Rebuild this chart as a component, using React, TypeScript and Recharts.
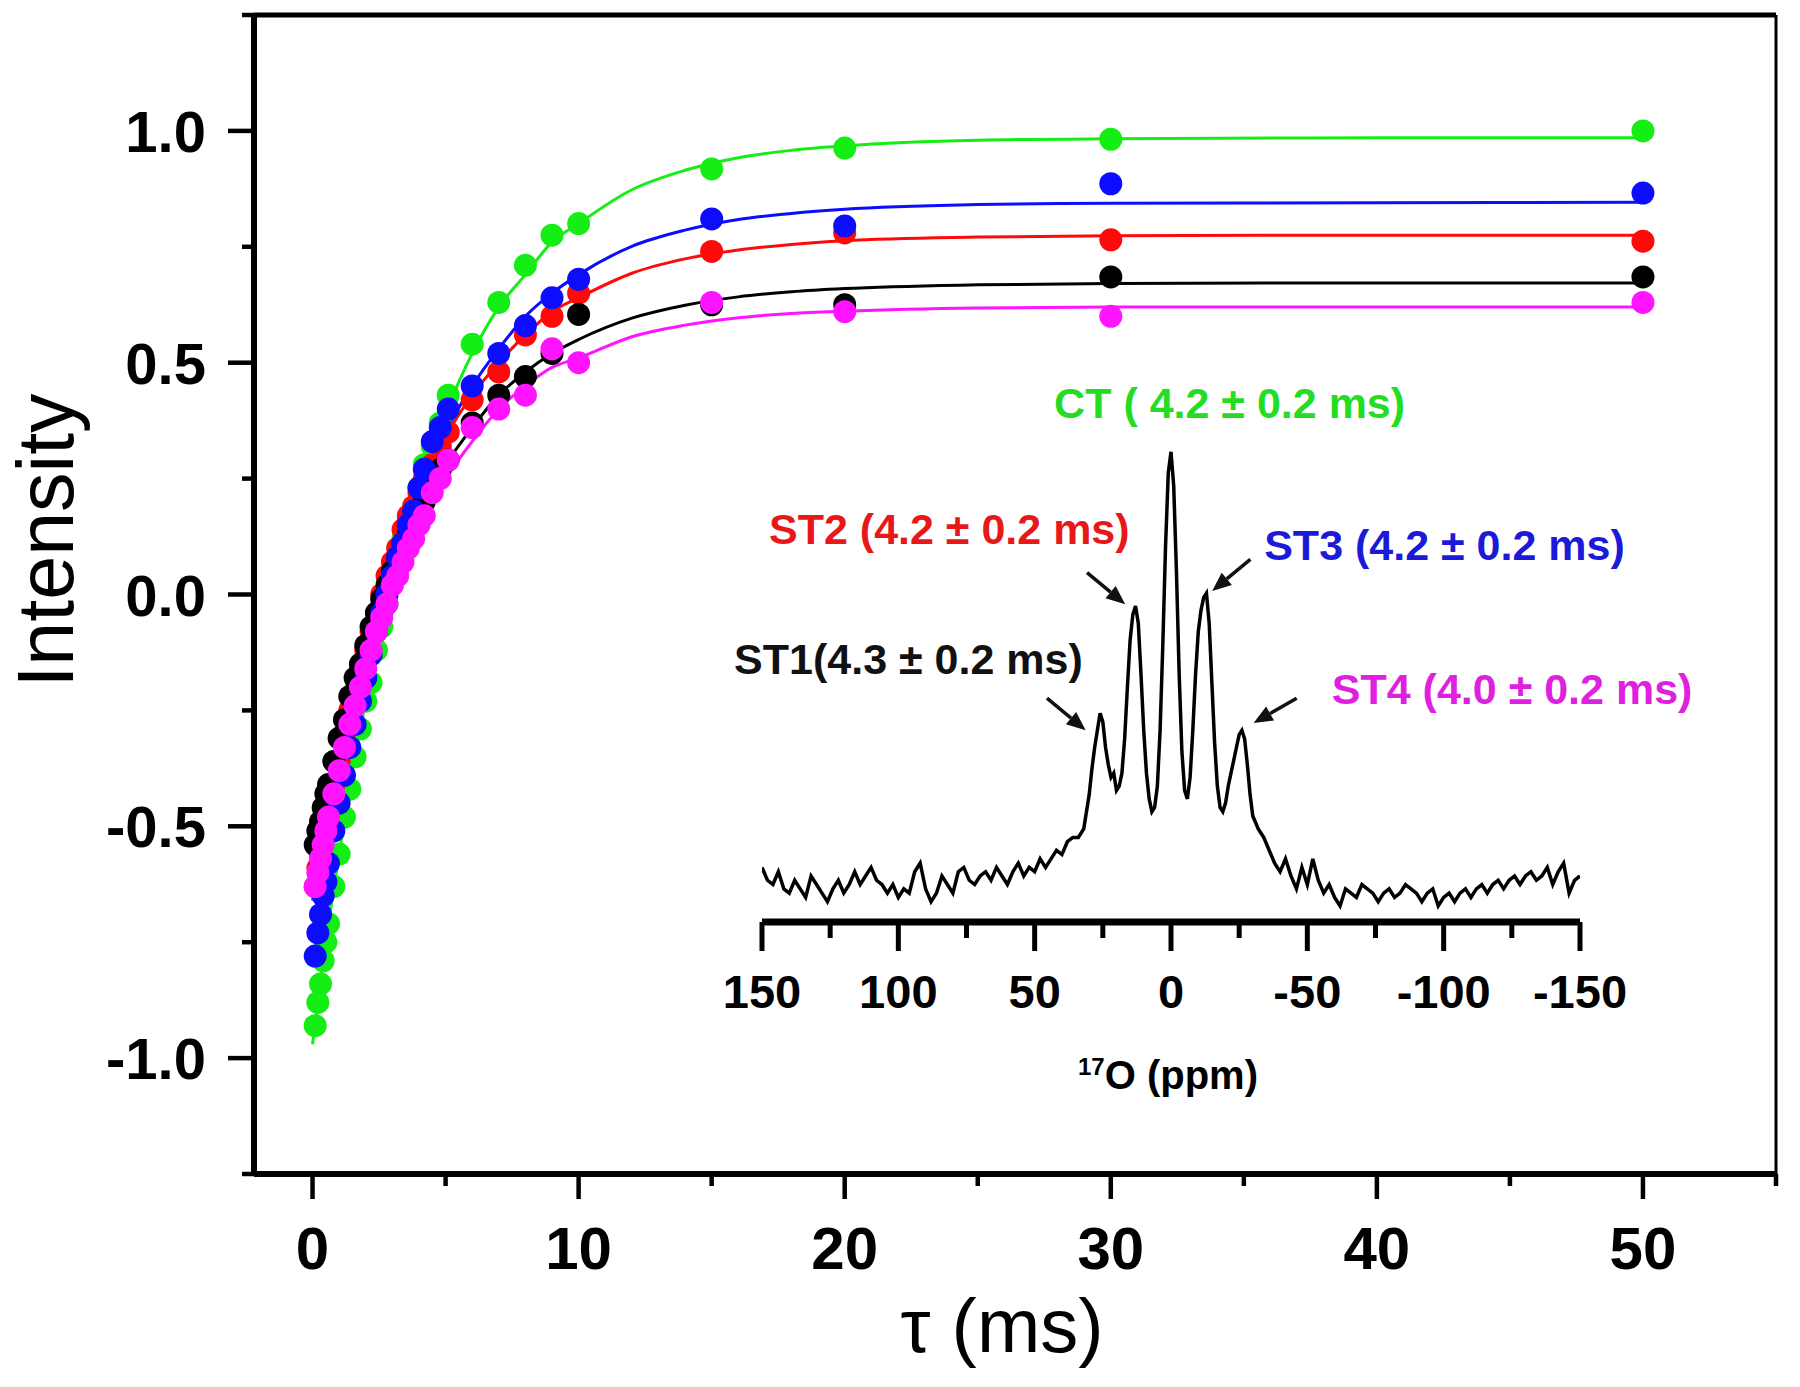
import React from 'react';
import {
  ComposedChart,
  LineChart,
  Line,
  Scatter,
  XAxis,
  YAxis,
  ReferenceLine,
  ReferenceDot,
} from 'recharts';

// ---------- main plot: recovery delay (ms) ----------
const TAU = [
  0.1, 0.2, 0.3, 0.4, 0.5, 0.6,
  0.8, 1.0, 1.2, 1.4, 1.6, 1.8, 2.0, 2.2, 2.4, 2.6, 2.8, 3.0, 3.2, 3.4, 3.6, 3.8, 4.0, 4.2, 4.5, 4.8, 5.1,
  6, 7, 8, 9, 10, 15, 20, 30, 50,
];

const CT_VALUES = [
  -0.93, -0.88, -0.84, -0.79, -0.75, -0.71,
  -0.63, -0.56, -0.48, -0.42, -0.35, -0.29, -0.23, -0.19, -0.12, -0.07, -0.02, 0.03, 0.07, 0.12, 0.16, 0.19, 0.23, 0.28, 0.32, 0.37, 0.43,
  0.54, 0.63, 0.71, 0.775, 0.8, 0.918, 0.963, 0.982, 1.0,
];
const ST2_VALUES = [
  -0.63, -0.59, -0.56, -0.53, -0.5, -0.47,
  -0.41, -0.36, -0.3, -0.25, -0.21, -0.16, -0.12, -0.08, -0.04, 0.0, 0.04, 0.07, 0.1, 0.14, 0.17, 0.19, 0.22, 0.25, 0.28, 0.32, 0.35,
  0.42, 0.48, 0.56, 0.6, 0.65, 0.74, 0.78, 0.765, 0.762,
];
const ST1_VALUES = [
  -0.54, -0.51, -0.49, -0.46, -0.43, -0.41,
  -0.36, -0.31, -0.27, -0.22, -0.18, -0.15, -0.11, -0.07, -0.04, -0.01, 0.02, 0.05, 0.08, 0.11, 0.13, 0.16, 0.18, 0.2, 0.24, 0.27, 0.29,
  0.37, 0.43, 0.47, 0.52, 0.604, 0.625, 0.625, 0.685, 0.685,
];
const ST3_VALUES = [
  -0.78, -0.73, -0.69, -0.65, -0.62, -0.58,
  -0.51, -0.45, -0.39, -0.33, -0.28, -0.23, -0.18, -0.13, -0.08, -0.04, 0.0, 0.04, 0.08, 0.11, 0.15, 0.18, 0.23, 0.27, 0.33, 0.36, 0.4,
  0.45, 0.52, 0.58, 0.64, 0.68, 0.81, 0.795, 0.886, 0.866,
];
const ST4_VALUES = [
  -0.63, -0.6, -0.57, -0.54, -0.51, -0.48,
  -0.43, -0.38, -0.33, -0.28, -0.24, -0.2, -0.16, -0.12, -0.08, -0.05, -0.02, 0.02, 0.04, 0.07, 0.1, 0.12, 0.15, 0.17, 0.22, 0.25, 0.29,
  0.36, 0.4, 0.43, 0.53, 0.5, 0.63, 0.61, 0.6, 0.63,
];

// fitted recovery curves
const FIT_TAU = [0, 0.5, 1, 1.5, 2, 3, 4, 5, 6, 7, 8, 9, 10, 12, 14, 16, 18, 20, 25, 30, 40, 50];
const CT_FIT = [-0.97, -0.75, -0.56, -0.38, -0.23, 0.03, 0.23, 0.39, 0.52, 0.62, 0.69, 0.76, 0.8, 0.873, 0.915, 0.942, 0.958, 0.968, 0.98, 0.983, 0.985, 0.985];
const ST2_FIT = [-0.66, -0.5, -0.36, -0.23, -0.12, 0.07, 0.22, 0.34, 0.43, 0.5, 0.56, 0.61, 0.64, 0.693, 0.724, 0.743, 0.755, 0.763, 0.771, 0.774, 0.775, 0.775];
const ST1_FIT = [-0.57, -0.43, -0.31, -0.2, -0.11, 0.05, 0.18, 0.28, 0.36, 0.43, 0.48, 0.52, 0.55, 0.596, 0.624, 0.642, 0.653, 0.66, 0.668, 0.671, 0.672, 0.672];
const ST3_FIT = [-0.8, -0.62, -0.45, -0.31, -0.18, 0.04, 0.21, 0.35, 0.45, 0.53, 0.6, 0.65, 0.69, 0.751, 0.786, 0.809, 0.822, 0.831, 0.841, 0.844, 0.845, 0.846];
const ST4_FIT = [-0.66, -0.51, -0.38, -0.26, -0.16, 0.02, 0.15, 0.25, 0.33, 0.4, 0.45, 0.49, 0.51, 0.556, 0.581, 0.597, 0.606, 0.611, 0.618, 0.62, 0.62, 0.62];

const X_TICKS = [0, 5, 10, 15, 20, 25, 30, 35, 40, 45, 50, 55];
const Y_TICKS = [-1.25, -1, -0.75, -0.5, -0.25, 0, 0.25, 0.5, 0.75, 1, 1.25];

// ---------- inset: 17O spectrum ----------
const SPEC_PPM = [
  150, 148, 146, 144, 142, 140, 138, 136, 134, 132,
  130, 128, 126, 124, 122, 120, 118, 116, 114, 112,
  110, 108, 106, 104, 102, 100, 98, 96, 94, 92,
  90, 88, 86, 84, 82, 80, 78, 76, 74, 72,
  70, 68, 66, 64, 62, 60, 58, 56, 54, 52,
  50, 48, 46, 44, 42, 40, 38, 36, 34, 32,
  30, 29, 28, 27, 26, 25, 24, 23, 22, 21,
  20, 19, 18, 17, 16, 15, 14, 13, 12, 11,
  10, 9, 8, 7, 6, 5, 4, 3, 2, 1,
  0, -1, -2, -3, -4, -5, -6, -7, -8, -9,
  -10, -11, -12, -13, -14, -15, -16, -17, -18, -19,
  -20, -21, -22, -23, -24, -25, -26, -27, -28, -29,
  -30, -32, -34, -36, -38, -40, -42, -44, -46, -48,
  -50, -52, -54, -56, -58, -60, -62, -64, -66, -68,
  -70, -72, -74, -76, -78, -80, -82, -84, -86, -88,
  -90, -92, -94, -96, -98, -100, -102, -104, -106, -108,
  -110, -112, -114, -116, -118, -120, -122, -124, -126, -128,
  -130, -132, -134, -136, -138, -140, -142, -144, -146, -148,
  -150,
];
const SPEC_INT = [
  3, 0, -1, 2, -2, -3, 0, -2, -4, 1,
  -1, -3, -5, -2, 0, -3, -1, 2, -1, 1,
  3, 0, -1, -3, -1, -4, -2, -3, 2, 4,
  -2, -5, -3, 1, -1, -3, 2, 3, 0, -1,
  1, 2, 0, 3, 1, -1, 2, 4, 1, 3,
  2, 5, 3, 5, 7, 6, 9, 10, 10, 12,
  20, 26, 31, 35, 39, 37, 31, 27, 24, 25,
  21, 22, 25, 33, 45, 56, 62, 64, 60, 48,
  35, 25, 19, 16, 17, 22, 35, 55, 78, 95,
  100, 92, 72, 48, 30, 21, 19, 24, 35, 48,
  58, 63, 66, 67, 60, 46, 32, 22, 17, 16,
  18, 22, 25, 28, 31, 34, 35, 33, 27, 20,
  15, 12, 10, 7, 4, 2, 5, 1, -2, 3,
  -1, 5, 0, -3, -1, -4, -6, -2, -3, -4,
  -1, -2, -3, -5, -3, -2, -4, -3, -1, -2,
  -3, -5, -3, -2, -6, -4, -3, -5, -3, -2,
  -4, -2, -1, -3, -1, 0, -2, 0, 1, -1,
  1, 2, 0, 1, 3, -1, 2, 4, -3, 0,
  1,
];
const PPM_TICKS = [150, 125, 100, 75, 50, 25, 0, -25, -50, -75, -100, -125, -150];

// annotation texts (positions in ppm / spectrum-intensity units)
const ANNOTATIONS = [
  { text: 'CT ( 4.2 \u00b1 0.2 ms)', color: '#22dd22', x: -21.5, y: 111.4 },
  { text: 'ST2 (4.2 \u00b1 0.2 ms)', color: '#e81818', x: 81.3, y: 82.1 },
  { text: 'ST3 (4.2 \u00b1 0.2 ms)', color: '#1a1ad8', x: -100.3, y: 78.2 },
  { text: 'ST1(4.3 \u00b1 0.2 ms)', color: '#111111', x: 96.3, y: 51.8 },
  { text: 'ST4 (4.0 \u00b1 0.2 ms)', color: '#e020e0', x: -125.1, y: 44.8 },
];
const ARROWS = [
  { fx: 45.5, fy: 42.5, tx: 31.3, ty: 35.0 },
  { fx: 30.8, fy: 71.8, tx: 16.8, ty: 64.4 },
  { fx: -29.1, fy: 74.9, tx: -15.1, ty: 67.5 },
  { fx: -46.1, fy: 42.5, tx: -30.3, ty: 36.7 },
];

const SERIES = [
  { name: 'CT', color: '#14ee14', values: CT_VALUES, fit: CT_FIT },
  { name: 'ST2', color: '#ff0a0a', values: ST2_VALUES, fit: ST2_FIT },
  { name: 'ST1', color: '#000000', values: ST1_VALUES, fit: ST1_FIT },
  { name: 'ST3', color: '#0c0cff', values: ST3_VALUES, fit: ST3_FIT },
  { name: 'ST4', color: '#ff14ff', values: ST4_VALUES, fit: ST4_FIT },
];

const FONT = '"Liberation Sans", Arial, Helvetica, sans-serif';

const MainXTick = (props: any) => {
  const { x, y, payload } = props;
  const v = payload.value;
  const major = v % 10 === 0;
  return (
    <g>
      <line x1={x} x2={x} y1={y} y2={y + (major ? 25 : 12)} stroke="#000" strokeWidth={4.5} />
      {major && (
        <text x={x} y={y + 95} textAnchor="middle" fontSize={60} fontWeight="bold" fill="#000" fontFamily={FONT}>
          {v}
        </text>
      )}
    </g>
  );
};

const MainYTick = (props: any) => {
  const { x, y, payload } = props;
  const v = payload.value;
  const major = Math.abs(v) <= 1 && Math.abs(v * 2 - Math.round(v * 2)) < 1e-9;
  return (
    <g>
      <line x1={x - (major ? 26 : 12)} x2={x} y1={y} y2={y} stroke="#000" strokeWidth={4.5} />
      {major && (
        <text x={x - 48} y={y + 21} textAnchor="end" fontSize={58} fontWeight="bold" fill="#000" fontFamily={FONT}>
          {v.toFixed(1)}
        </text>
      )}
    </g>
  );
};

const InsetXTick = (props: any) => {
  const { x, y, payload } = props;
  const v = payload.value;
  const major = v % 50 === 0;
  return (
    <g>
      <line x1={x} x2={x} y1={y} y2={y + (major ? 29 : 16)} stroke="#000" strokeWidth={5} />
      {major && (
        <text x={x} y={y + 86} textAnchor="middle" fontSize={47} fontWeight="bold" fill="#000" fontFamily={FONT}>
          {v}
        </text>
      )}
    </g>
  );
};

const Arrow = (props: any) => {
  const { x1, y1, x2, y2 } = props;
  const dx = x2 - x1;
  const dy = y2 - y1;
  const len = Math.hypot(dx, dy) || 1;
  const ux = dx / len;
  const uy = dy / len;
  const hl = 19;
  const hw = 8;
  const bx = x2 - ux * hl;
  const by = y2 - uy * hl;
  const px = -uy;
  const py = ux;
  return (
    <g>
      <line x1={x1} y1={y1} x2={bx} y2={by} stroke="#111" strokeWidth={3.5} />
      <polygon
        points={`${x2},${y2} ${bx + px * hw},${by + py * hw} ${bx - px * hw},${by - py * hw}`}
        fill="#111"
      />
    </g>
  );
};

export default function App() {
  const pointSets = SERIES.map((s) => ({
    ...s,
    points: TAU.map((t, i) => ({ t, v: s.values[i] })),
    fitPoints: FIT_TAU.map((t, i) => ({ t, v: s.fit[i] })),
  }));
  const spectrum = SPEC_PPM.map((ppm, i) => ({ ppm, v: SPEC_INT[i] }));

  return (
    <div
      style={{
        position: 'relative',
        width: 1792,
        height: 1379,
        marginLeft: -8,
        marginTop: -8,
        fontFamily: FONT,
        background: '#fff',
      }}
    >
      <ComposedChart width={1792} height={1379} margin={{ top: 15, right: 16, left: 0, bottom: 0 }}>
        <XAxis
          dataKey="t"
          type="number"
          domain={[-2.2, 55]}
          allowDataOverflow
          ticks={X_TICKS}
          interval={0}
          tick={<MainXTick />}
          tickLine={false}
          tickSize={0}
          tickMargin={0}
          height={205}
          axisLine={{ stroke: '#000', strokeWidth: 6 }}
          label={{
            content: (p: any) => {
              const vb = p.viewBox;
              return (
                <text
                  x={vb.x + vb.width / 2 - 13}
                  y={vb.y + 178}
                  textAnchor="middle"
                  fontSize={76}
                  fill="#000"
                  fontFamily={FONT}
                >
                  {'\u03c4 (ms)'}
                </text>
              );
            },
          }}
        />
        <YAxis
          dataKey="v"
          type="number"
          domain={[-1.25, 1.25]}
          allowDataOverflow
          ticks={Y_TICKS}
          interval={0}
          tick={<MainYTick />}
          tickLine={false}
          tickSize={0}
          tickMargin={0}
          width={254}
          axisLine={{ stroke: '#000', strokeWidth: 6 }}
          label={{
            content: (p: any) => {
              const vb = p.viewBox;
              const cx = vb.x + 73;
              const cy = vb.y + vb.height / 2 - 54;
              return (
                <text
                  x={cx}
                  y={cy}
                  transform={`rotate(-90 ${cx} ${cy})`}
                  textAnchor="middle"
                  fontSize={79}
                  fill="#000"
                  fontFamily={FONT}
                >
                  Intensity
                </text>
              );
            },
          }}
        />
        <ReferenceLine y={1.25} stroke="#000" strokeWidth={5} />
        <ReferenceLine x={55} stroke="#000" strokeWidth={3} />
        {pointSets.map((s) => (
          <Line
            key={`fit-${s.name}`}
            data={s.fitPoints}
            dataKey="v"
            type="monotone"
            stroke={s.color}
            strokeWidth={3}
            dot={false}
            activeDot={false}
            isAnimationActive={false}
          />
        ))}
        {pointSets.map((s) => (
          <Scatter
            key={`pts-${s.name}`}
            data={s.points}
            dataKey="v"
            fill={s.color}
            isAnimationActive={false}
            shape={(p: any) => <circle cx={p.cx} cy={p.cy} r={11.5} fill={s.color} />}
          />
        ))}
      </ComposedChart>

      <div style={{ position: 'absolute', left: 708, top: 358 }}>
        <LineChart width={1050} height={770} data={spectrum} margin={{ top: 0, right: 178, left: 54, bottom: 0 }}>
          <XAxis
            dataKey="ppm"
            type="number"
            domain={[-150, 150]}
            reversed
            allowDataOverflow
            ticks={PPM_TICKS}
            interval={0}
            tick={<InsetXTick />}
            tickLine={false}
            tickSize={0}
            tickMargin={0}
            height={206}
            axisLine={{ stroke: '#000', strokeWidth: 7 }}
            label={{
              content: (p: any) => {
                const vb = p.viewBox;
                return (
                  <text
                    x={vb.x + vb.width / 2 - 3}
                    y={vb.y + 167}
                    textAnchor="middle"
                    fontSize={40}
                    fontWeight="bold"
                    fill="#000"
                    fontFamily={FONT}
                  >
                    <tspan fontSize={24} dy={-14}>17</tspan>
                    <tspan dy={14}>O (ppm)</tspan>
                  </text>
                );
              },
            }}
          />
          <YAxis hide type="number" domain={[-9.74, 121.9]} allowDataOverflow />
          <Line
            dataKey="v"
            type="linear"
            stroke="#000"
            strokeWidth={3.5}
            dot={false}
            activeDot={false}
            isAnimationActive={false}
          />
          {ARROWS.map((a, i) => (
            <ReferenceLine
              key={`arrow-${i}`}
              segment={[
                { x: a.fx, y: a.fy },
                { x: a.tx, y: a.ty },
              ]}
              ifOverflow="visible"
              shape={(p: any) => <Arrow {...p} />}
            />
          ))}
          {ANNOTATIONS.map((a) => (
            <ReferenceDot
              key={a.text}
              x={a.x}
              y={a.y}
              r={0}
              fill="none"
              stroke="none"
              ifOverflow="visible"
              label={{
                value: a.text,
                position: 'center',
                fill: a.color,
                fontSize: 43,
                fontWeight: 'bold',
                fontFamily: FONT,
              }}
            />
          ))}
        </LineChart>
      </div>
    </div>
  );
}
